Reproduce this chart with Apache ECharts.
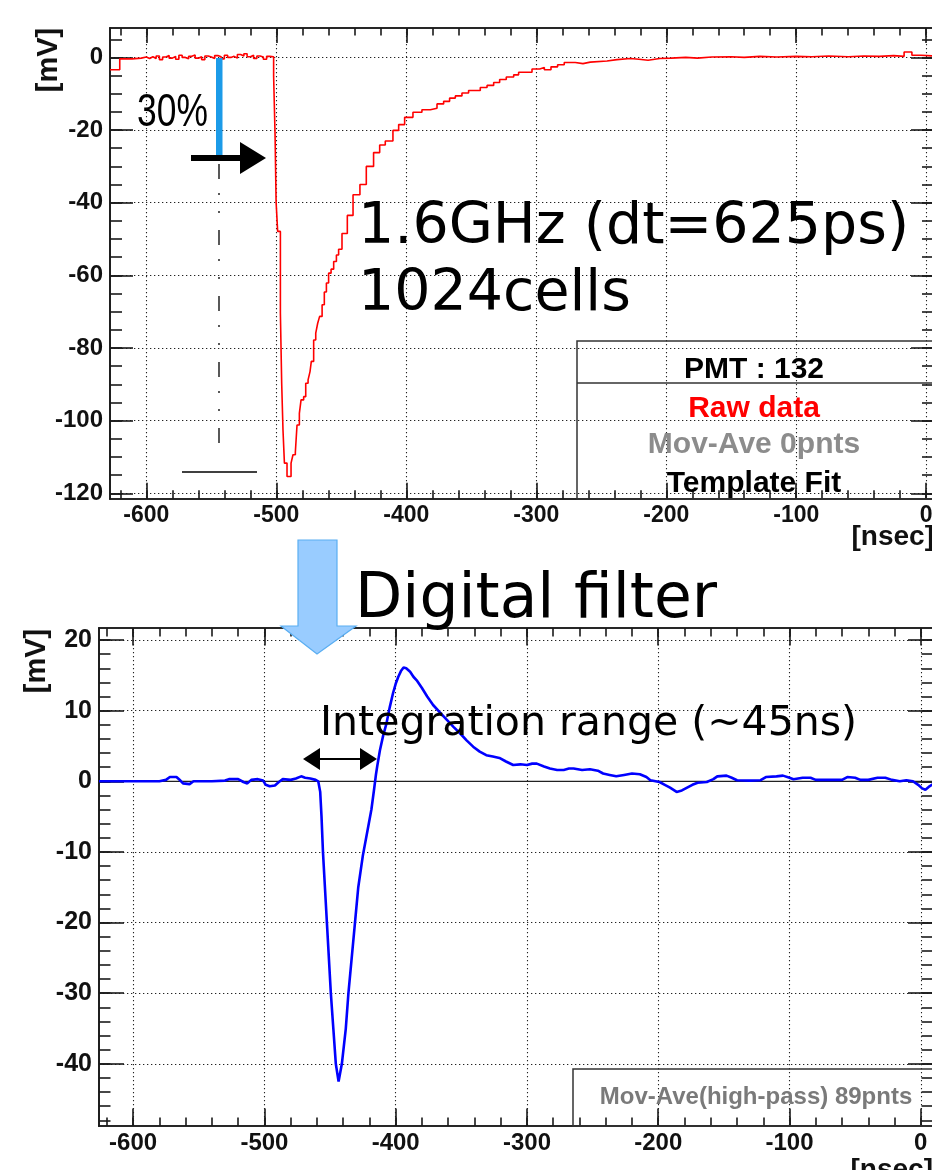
<!DOCTYPE html>
<html><head><meta charset="utf-8">
<script src="https://cdn.jsdelivr.net/npm/echarts@6.0.0/dist/echarts.min.js"></script>
<style>html,body{margin:0;padding:0;background:#fff;overflow:hidden}#c{width:932px;height:1170px}</style>
</head><body><div id="c"></div><script>
// ---------------- DATA ----------------
// Raw waveform (step histogram): time [ns] where each level starts, and level [mV]
const rawTime = [-628,-620.5,-611,-604,-600,-597.5,-595,-592.5,-590,-587.5,-585,-582.5,-580,-577.5,-575,-572.5,-570,-567.5,-565,-562.5,-560,-557.5,-555,-552.5,-550,-547.5,-545,-542.5,-540,-537.5,-535,-532.5,-530,-527.5,-525,-522.5,-520,-517.5,-515,-512.5,-510,-507.5,-505,
 -502.1,-501,-500.2,-499,-496.9,-495.9,-494.9,-493.8,-491.8,-488.7,-487.2,-485.4,-484.1,-482.3,-481,-479,-477.4,-475.6,-474.1,-473.1,-471.3,-469.7,-468.2,-466.7,-464.8,-463.1,-461.5,-459.8,-457.9,-455.9,-453.8,-452.1,-449.5,-445.4,-441,-435.7,-430.8,-425.2,-420.5,-416.2,-410.3,-405.9,-401.3,-394.9,-388,-381.5,-376.4,-371.3,-366.7,-362.3,-357.2,-352.1,-343.1,-337.9,-332.8,-328.2,-323.1,-317.4,-313.6,-303.3,-297.4,-293.8,-288.7,-283.6,-278.5,-270,-264.1,-258.5,-245.6,-237.9,
 -227.7,-221,-214,-205,-196,-185,-176,-165,-150,-140,-128,-115,-100,-88,-75,-60,-48,-36,-25,-17,-11,-4,6];
const rawMv = [-3.4,-0.4,-0.2,0.1,-0.3,0.2,-0.3,0.4,-0.6,0.1,0.5,-0.2,0.3,-0.5,0.6,0.0,-0.4,0.3,0.7,-0.2,0.2,-0.6,0.4,0.1,-0.3,0.5,0.2,-0.4,0.6,0.0,0.3,-0.2,0.8,0.4,1.0,0.2,0.6,-0.3,0.4,0.1,-0.5,0.3,0.2,
 -5.2,-21.3,-39.8,-47.9,-70.4,-89.7,-102.6,-111.7,-115.4,-111.7,-109.4,-108.7,-101.2,-98,-94.3,-93.4,-89.7,-88.8,-86.5,-83.7,-77.8,-75.9,-73.2,-71.3,-68.1,-64.6,-62.1,-59.4,-58.3,-56.2,-54.4,-52.8,-48.5,-43.5,-37.8,-35,-30,-26.2,-24.1,-23,-20.1,-18.5,-16.5,-15.1,-14.4,-14,-12.8,-12.1,-11.2,-10.6,-9.8,-9.1,-8.3,-7.7,-6.9,-6.1,-5.4,-4.8,-4.1,-3.2,-2.8,-3.4,-2.6,-2.0,-1.4,-1.7,-1.3,-1.0,-0.6,-0.3,
 -0.5,-0.8,-0.3,-0.2,0.0,-0.2,0.1,0.2,0.0,0.3,0.1,0.3,0.2,0.4,0.2,0.4,0.3,0.5,0.3,1.5,0.6,0.4,0.4];

// Filtered waveform (moving-average high-pass, 89 points)
const filtTime = [-626,-580,-575,-572,-567,-564,-562,-557,-554,-540,-530,-527,-520,-516,-513,-510,-505,-501,-499,-496,-492,-489,-486,-480,-476,-472,-469,-465,-461,-459,
 -457.5,-456.5,-455.4,-453.9,-452.4,-450.9,-449.4,-447.5,-445.6,-443.5,-442.3,-441,-438,-436,-433.5,-431,-428.5,-425,-421.5,-418.5,-416.5,-415,-414,-412,-409.5,-407,-404.5,-402,-400,-398,-396,-394,-392,-389,-386.5,-384,-380,-376,-371.5,-366,-361,-356,-351,-346,-341,-336,-331,-326,-321,-316,-310.5,-305,-300,-296,-292.5,-287,-282.5,-277,-272,-268,-264.5,-258,-252,-246,-242,-237,-232,-226,-220,-214,-209,-206,-199,-195,-191,-186,-182,-178,-174,-170,-163,-158,-155,-148,-144,-140,-130,-122,-118,-110,-105,-100,-97,-90,-84,-80,-70,-60,-56,-50,-46,-40,-33,-27,-22,-16,-11,-6,-2,1,3.5,6,9.3];
const filtMv = [0,0,0.2,0.6,0.6,0.1,-0.3,-0.4,0,0,0.1,0.3,0.3,-0.1,-0.3,0.2,0.3,0.1,-0.5,-0.7,-0.6,-0.1,0.3,0.2,0.4,0.7,0.5,0.4,0.2,0,
 -1.5,-5,-10,-15,-20,-25,-30,-35,-40,-42.5,-42.3,-40,-35,-30,-25,-20,-15,-10.5,-7,-4,-1.2,1,2.2,4.4,6.5,8.2,10.5,12.5,13.8,14.8,15.6,16.1,16.0,15.5,14.8,14.3,13.2,12,10.8,9.7,8.7,7.7,6.8,5.8,4.9,4.2,3.7,3.5,3.3,2.8,2.3,2.4,2.3,2.5,2.5,2.1,1.8,1.6,1.6,1.8,1.8,1.6,1.7,1.5,1.1,0.9,0.7,0.9,1.1,1.0,0.6,0.15,-0.1,-0.5,-0.9,-1.5,-1.3,-0.9,-0.5,-0.2,-0.1,0.3,0.7,0.8,0.5,0.15,0.1,0.15,0.6,0.7,0.8,0.5,0.3,0.5,0.5,0.2,0.2,0.2,0.6,0.5,0.2,0.2,0.5,0.5,0.2,0,0.15,0,-0.5,-1.0,-1.2,-0.8,-0.4];

// Tick values / labels
const xMajor = [-600,-500,-400,-300,-200,-100,0];
const topYMajor = [-120,-100,-80,-60,-40,-20,0];
const botYMajor = [-40,-30,-20,-10,0,10,20];
const legendTop = ['PMT : 132','Raw data','Mov-Ave 0pnts','Template Fit'];
const legendBot = 'Mov-Ave(high-pass) 89pnts';

function range(a,b,s){const r=[];for(let v=a;v<=b+1e-9;v+=s)r.push(Math.round(v*100)/100);return r;}
const xMinor = range(-620,0,20);
const topYMinor = range(-120,5,5);
const botYMinor = range(-48,20,2);

// extents
const topX=[-628,6], topY=[-121.5,8.1];
const botX=[-626,9.3], botY=[-48.8,21.7];

// ---------------- OPTION ----------------
const LC='#1a1a1a';
const FONT='"Liberation Sans", Arial, sans-serif';
function axis(grid,pos,ext,ticks,len,labels,labelSize,margin){
  return {
    type:'value',gridIndex:grid,position:pos,min:ext[0],max:ext[1],
    axisLine:{show:true,onZero:false,lineStyle:{color:LC,width:1.7}},
    axisTick:{show:true,inside:true,length:len,customValues:ticks,lineStyle:{color:LC,width:1.6}},
    axisLabel:labels?{show:true,customValues:labels,margin:margin,fontSize:labelSize,fontWeight:'bold',fontFamily:FONT,color:'#111'}:{show:false},
    splitLine:labels?{show:true,lineStyle:{type:[1.3,2.7],color:'#222',width:1.1}}:{show:false},
    minorTick:{show:false},minorSplitLine:{show:false}
  };
}
const xAxes=[
  axis(0,'bottom',topX,xMajor,16,xMajor,23,5),
  axis(0,'bottom',topX,xMinor,8.5,null),
  axis(0,'top',topX,xMajor,15,null),
  axis(0,'top',topX,xMinor,7.5,null),
  axis(1,'bottom',botX,xMajor,17.5,xMajor,24,5),
  axis(1,'bottom',botX,xMinor,8.5,null),
  axis(1,'top',botX,xMajor,17.5,null),
  axis(1,'top',botX,xMinor,8.5,null)
];
const yAxes=[
  axis(0,'left',topY,topYMajor,23,topYMajor,24,7),
  axis(0,'left',topY,topYMinor,12,null),
  axis(0,'right',topY,topYMajor,23,null),
  axis(0,'right',topY,topYMinor,12,null),
  axis(1,'left',botY,botYMajor,25,botYMajor,25,7),
  axis(1,'left',botY,botYMinor,11.5,null),
  axis(1,'right',botY,botYMajor,25,null),
  axis(1,'right',botY,botYMinor,11.5,null)
];

const rawData = rawTime.map((t,i)=>[t,rawMv[i]]);
const filtData = filtTime.map((t,i)=>[t,filtMv[i]]);

const txt=(x,y,text,font,fill,align,extra)=>Object.assign({type:'text',x:x,y:y,z:50,silent:true,
  style:{text:text,font:font,fill:fill||'#000',align:align||'left',verticalAlign:'middle'}},extra||{});
const BOLD=(s)=>'bold '+s+'px '+FONT;
const DJ=(s)=>s+'px "DejaVu Sans", sans-serif';

const graphics=[
  // axis titles
  txt(49,60,'[mV]',BOLD(29),'#111','center',{rotation:Math.PI/2}),
  txt(37,661,'[mV]',BOLD(29),'#111','center',{rotation:Math.PI/2}),
  txt(934,537,'[nsec]',BOLD(28),'#111','right'),
  txt(933,1170,'[nsec]',BOLD(28),'#111','right'),
  // top legend box
  {type:'rect',z:40,silent:true,shape:{x:577,y:341,width:360,height:158},style:{fill:'none',stroke:'#333',lineWidth:1.5}},
  {type:'line',z:40,silent:true,shape:{x1:577,y1:383,x2:936,y2:383},style:{stroke:'#333',lineWidth:1.5}},
  txt(754,370,legendTop[0],BOLD(30),'#000','center'),
  txt(754,409,legendTop[1],BOLD(30),'#ff0000','center'),
  txt(754,445,legendTop[2],BOLD(30),'#8c8c8c','center'),
  txt(754,484,legendTop[3],BOLD(30),'#000','center'),
  // bottom legend box
  {type:'rect',z:40,silent:true,shape:{x:573,y:1069,width:365,height:57},style:{fill:'none',stroke:'#333',lineWidth:1.5}},
  txt(756,1097,legendBot,BOLD(24),'#7a7a7a','center'),
  // annotations top
  txt(358,228,'1.6GHz (dt=625ps)',DJ(57),'#000','left'),
  txt(358,295,'1024cells',DJ(57),'#000','left'),
  txt(137,113,'30%','46px '+FONT,'#000','left',{scaleX:0.77}),
  {type:'rect',z:45,silent:true,shape:{x:216,y:58,width:6.5,height:97},style:{fill:'#1c9be8'}},
  {type:'polygon',z:45,silent:true,shape:{points:[[191,155],[240,155],[240,142],[266,158],[240,174],[240,161],[191,161]]},style:{fill:'#000'}},
  {type:'line',z:45,silent:true,shape:{x1:219,y1:164,x2:219,y2:452},style:{stroke:'#000',lineWidth:1.3,lineDash:[15,14,2,16,2,17]}},
  {type:'line',z:45,silent:true,shape:{x1:182,y1:472,x2:257,y2:472},style:{stroke:'#000',lineWidth:1.3}},
  // middle
  {type:'polygon',z:60,silent:true,shape:{points:[[298,540],[337,540],[337,626],[356,626],[317,654],[281,626],[298,626]]},style:{fill:'#99ccff',stroke:'#5aaef2',lineWidth:1.2}},
  txt(355,601,'Digital filter',DJ(61.5),'#000','left'),
  // bottom annotations
  txt(320,724,'Integration range (~45ns)',DJ(41),'#000','left'),
  {type:'line',z:45,silent:true,shape:{x1:315,y1:759,x2:365,y2:759},style:{stroke:'#000',lineWidth:2}},
  {type:'polygon',z:45,silent:true,shape:{points:[[303,759],[320,748],[320,770]]},style:{fill:'#000'}},
  {type:'polygon',z:45,silent:true,shape:{points:[[377,759],[360,748],[360,770]]},style:{fill:'#000'}}
];

const option={
  animation:false,
  backgroundColor:'#fff',
  grid:[
    {left:110,right:-2,top:28,bottom:671.3,outerBoundsMode:'none',containLabel:false},
    {left:99,right:-1,top:628,bottom:44,outerBoundsMode:'none',containLabel:false}
  ],
  xAxis:xAxes,
  yAxis:yAxes,
  series:[
    {type:'line',name:'Raw data',xAxisIndex:0,yAxisIndex:0,data:rawData,step:'end',showSymbol:false,
     lineStyle:{color:'#ff0000',width:1.6},z:5},
    {type:'line',name:'zero',xAxisIndex:4,yAxisIndex:4,data:[[botX[0],0],[botX[1],0]],showSymbol:false,
     lineStyle:{color:'#222',width:1.3},z:4},
    {type:'line',name:'Mov-Ave',xAxisIndex:4,yAxisIndex:4,data:filtData,showSymbol:false,
     lineStyle:{color:'#0000ff',width:2.6},z:5}
  ],
  graphic:graphics
};
const chart=echarts.init(document.getElementById('c'),null,{renderer:'canvas'});
chart.setOption(option);
</script></body></html>
